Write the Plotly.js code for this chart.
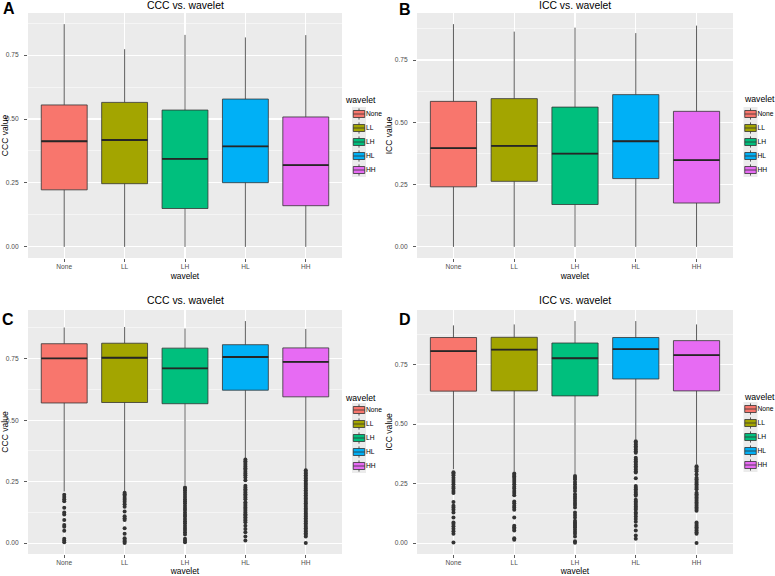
<!DOCTYPE html>
<html>
<head>
<meta charset="utf-8">
<script src="https://cdn.plot.ly/plotly-3.0.1.min.js"></script>
<style>html,body{margin:0;padding:0;background:#fff;}#chart{width:775px;height:576px;}</style>
</head>
<body>
<div id="chart"></div>
<script>
// ---------- DATA ----------
const categories = ['None', 'LL', 'LH', 'HL', 'HH'];

// Panel A: CCC vs. wavelet
const cccA_q1     = [0.223, 0.247, 0.150, 0.251, 0.161];
const cccA_median = [0.413, 0.418, 0.344, 0.393, 0.320];
const cccA_q3     = [0.555, 0.565, 0.535, 0.578, 0.508];
const cccA_lower  = [0.000, 0.000, 0.000, 0.000, 0.000];
const cccA_upper  = [0.871, 0.773, 0.829, 0.819, 0.828];

// Panel B: ICC vs. wavelet
const iccB_q1     = [0.241, 0.263, 0.170, 0.274, 0.176];
const iccB_median = [0.396, 0.405, 0.374, 0.424, 0.348];
const iccB_q3     = [0.584, 0.595, 0.561, 0.611, 0.544];
const iccB_lower  = [0.000, 0.000, 0.000, 0.000, 0.000];
const iccB_upper  = [0.894, 0.864, 0.880, 0.858, 0.888];

// Panel C: CCC vs. wavelet
const cccC_q1     = [0.570, 0.572, 0.567, 0.622, 0.595];
const cccC_median = [0.751, 0.754, 0.711, 0.757, 0.737];
const cccC_q3     = [0.811, 0.813, 0.793, 0.807, 0.794];
const cccC_lower  = [0.210, 0.210, 0.235, 0.345, 0.300];
const cccC_upper  = [0.877, 0.879, 0.873, 0.903, 0.871];

const cccC_outNone = [0.197, 0.188, 0.179, 0.170, 0.144, 0.125, 0.117, 0.094, 0.074, 0.067, 0.050, 0.018, 0.011, 0.004];
const cccC_outLL   = [0.205, 0.199, 0.193, 0.184, 0.176, 0.168, 0.158, 0.148, 0.129, 0.109, 0.101, 0.094, 0.061, 0.038, 0.020, 0.013, 0.007, 0.001];
const cccC_outLH   = [0.226, 0.222, 0.215, 0.206, 0.197, 0.188, 0.179, 0.170, 0.162, 0.152, 0.143, 0.135, 0.125, 0.116, 0.108, 0.098, 0.089, 0.081, 0.071, 0.062, 0.054, 0.044, 0.035, 0.018, 0.011, 0.004];
const cccC_outHL   = [0.340, 0.333, 0.326, 0.319, 0.312, 0.305, 0.298, 0.290, 0.283, 0.276, 0.267, 0.256, 0.233, 0.226, 0.219, 0.213, 0.206, 0.199, 0.193, 0.186, 0.179, 0.166, 0.159, 0.152, 0.145, 0.139, 0.132, 0.125, 0.118, 0.112, 0.105, 0.098, 0.092, 0.085, 0.071, 0.058, 0.044, 0.027, 0.011];
const cccC_outHH   = [0.296, 0.289, 0.283, 0.276, 0.269, 0.263, 0.256, 0.249, 0.242, 0.236, 0.229, 0.222, 0.215, 0.208, 0.202, 0.195, 0.188, 0.182, 0.175, 0.168, 0.162, 0.155, 0.148, 0.141, 0.135, 0.128, 0.121, 0.114, 0.108, 0.101, 0.094, 0.088, 0.081, 0.074, 0.067, 0.061, 0.054, 0.047, 0.040, 0.034, 0.027, 0.001];

// Panel D: ICC vs. wavelet
const iccD_q1     = [0.638, 0.639, 0.618, 0.689, 0.639];
const iccD_median = [0.806, 0.812, 0.776, 0.814, 0.789];
const iccD_q3     = [0.863, 0.864, 0.840, 0.863, 0.850];
const iccD_lower  = [0.310, 0.300, 0.290, 0.435, 0.330];
const iccD_upper  = [0.914, 0.918, 0.932, 0.932, 0.918];

const iccD_outNone = [0.298, 0.292, 0.285, 0.275, 0.265, 0.257, 0.247, 0.237, 0.229, 0.219, 0.210, 0.173, 0.157, 0.150, 0.140, 0.129, 0.108, 0.087, 0.080, 0.071, 0.060, 0.050, 0.039, 0.003];
const iccD_outLL   = [0.292, 0.286, 0.280, 0.273, 0.265, 0.257, 0.247, 0.237, 0.229, 0.219, 0.210, 0.201, 0.175, 0.167, 0.157, 0.150, 0.140, 0.108, 0.073, 0.067, 0.060, 0.053, 0.021, 0.014];
const iccD_outLH   = [0.282, 0.275, 0.268, 0.257, 0.247, 0.237, 0.229, 0.219, 0.205, 0.196, 0.187, 0.178, 0.168, 0.160, 0.150, 0.129, 0.118, 0.108, 0.094, 0.087, 0.080, 0.073, 0.067, 0.057, 0.048, 0.039, 0.028, 0.008, 0.002];
const iccD_outHL   = [0.428, 0.421, 0.414, 0.407, 0.400, 0.393, 0.386, 0.379, 0.358, 0.351, 0.344, 0.337, 0.330, 0.323, 0.316, 0.309, 0.302, 0.296, 0.272, 0.240, 0.233, 0.226, 0.219, 0.212, 0.205, 0.199, 0.182, 0.175, 0.168, 0.161, 0.154, 0.147, 0.140, 0.129, 0.122, 0.112, 0.101, 0.090, 0.073, 0.053, 0.032, 0.018];
const iccD_outHH   = [0.323, 0.316, 0.309, 0.302, 0.288, 0.274, 0.268, 0.261, 0.254, 0.247, 0.240, 0.233, 0.226, 0.212, 0.205, 0.199, 0.192, 0.185, 0.178, 0.171, 0.164, 0.157, 0.150, 0.143, 0.136, 0.087, 0.080, 0.073, 0.067, 0.060, 0.053, 0.046, 0.039, 0.001];

// ---------- STYLE ----------
const fills = ['#F8766D', '#A3A500', '#00BF7D', '#00B0F6', '#E76BF3'];
const FONT = 'Liberation Sans, Arial, sans-serif';
const W = 775, H = 576;
const px = v => v / W;
const py = v => 1 - v / H;

const panels = [
  {ax: '', q1: cccA_q1, med: cccA_median, q3: cccA_q3, lo: cccA_lower, hi: cccA_upper, out: null,
   title: 'CCC vs. wavelet', ytitle: 'CCC value', letter: 'A',
   xd: [28, 342], yd: [13, 258], titleY: 6, letterXY: [8.5, 8.5],
   legX: [352, 366], legY: [107, 177], legTitle: [343, 100]},
  {ax: '2', q1: iccB_q1, med: iccB_median, q3: iccB_q3, lo: iccB_lower, hi: iccB_upper, out: null,
   title: 'ICC vs. wavelet', ytitle: 'ICC value', letter: 'B',
   xd: [417, 733], yd: [13, 258], titleY: 6, letterXY: [404.5, 9],
   legX: [743.5, 757.5], legY: [107, 177], legTitle: [742, 99]},
  {ax: '3', q1: cccC_q1, med: cccC_median, q3: cccC_q3, lo: cccC_lower, hi: cccC_upper,
   out: [cccC_outNone, cccC_outLL, cccC_outLH, cccC_outHL, cccC_outHH],
   title: 'CCC vs. wavelet', ytitle: 'CCC value', letter: 'C',
   xd: [28, 342], yd: [310, 554], titleY: 300.7, letterXY: [7.5, 319],
   legX: [352, 366], legY: [403, 473], legTitle: [343, 397.7]},
  {ax: '4', q1: iccD_q1, med: iccD_median, q3: iccD_q3, lo: iccD_lower, hi: iccD_upper,
   out: [iccD_outNone, iccD_outLL, iccD_outLH, iccD_outHL, iccD_outHH],
   title: 'ICC vs. wavelet', ytitle: 'ICC value', letter: 'D',
   xd: [417, 733], yd: [310, 554], titleY: 300.7, letterXY: [404.5, 319],
   legX: [743.5, 757.5], legY: [402, 472], legTitle: [742, 396.7]}
];

const traces = [];
const layout = {
  width: W, height: H,
  margin: {l: 0, r: 0, t: 0, b: 0},
  paper_bgcolor: '#FFFFFF',
  plot_bgcolor: '#EBEBEB',
  showlegend: false,
  hovermode: false,
  boxmode: 'overlay',
  font: {family: FONT, color: '#000'},
  annotations: []
};

panels.forEach((p, pi) => {
  const xa = 'x' + p.ax, ya = 'y' + p.ax;
  // boxes, one trace per category
  categories.forEach((c, i) => {
    traces.push({
      type: 'box', xaxis: xa, yaxis: ya, name: c,
      x: [c], q1: [p.q1[i]], median: [p.med[i]], q3: [p.q3[i]],
      lowerfence: [p.lo[i]], upperfence: [p.hi[i]],
      width: 0.76, whiskerwidth: 0, boxpoints: false,
      fillcolor: fills[i], line: {color: '#333333', width: 0.8}
    });
  });
  // thicker median line
  traces.push({
    type: 'box', xaxis: xa, yaxis: ya, name: 'median',
    x: categories, q1: p.med, median: p.med, q3: p.med,
    lowerfence: p.med, upperfence: p.med,
    width: 0.76, whiskerwidth: 0, boxpoints: false,
    fillcolor: 'rgba(0,0,0,0)', line: {color: '#262626', width: 1.8}
  });
  // outliers
  if (p.out) {
    const ox = [], oy = [];
    p.out.forEach((arr, i) => arr.forEach(v => { ox.push(categories[i]); oy.push(v); }));
    traces.push({
      type: 'scatter', mode: 'markers', xaxis: xa, yaxis: ya,
      x: ox, y: oy, marker: {color: '#333333', size: 4}, cliponaxis: false
    });
  }
  // y range as ggplot's 5% expansion of data range
  let ymax = Math.max(...p.hi);
  let ymin = Math.min(...p.lo);
  if (p.out) p.out.forEach(a => { ymin = Math.min(ymin, ...a); });
  const span = ymax - ymin;

  layout['xaxis' + p.ax] = {
    domain: [px(p.xd[0]), px(p.xd[1])], anchor: ya,
    type: 'category', categoryorder: 'array', categoryarray: categories,
    range: [-0.6, 4.6], showgrid: true, gridcolor: '#FFFFFF', gridwidth: 1.1,
    zeroline: false, showline: false,
    ticks: 'outside', ticklen: 3, tickcolor: '#333333', tickwidth: 0.8,
    ticklabelstandoff: -1,
    tickfont: {size: 6.6, color: '#4D4D4D', family: FONT},
    title: {text: 'wavelet', font: {size: 8.4, color: '#000', family: FONT}, standoff: 4},
    fixedrange: true
  };
  layout['yaxis' + p.ax] = {
    domain: [py(p.yd[1]), py(p.yd[0])], anchor: xa,
    range: [ymin - 0.05 * span, ymax + 0.05 * span],
    tick0: 0, dtick: 0.25, tickformat: '.2f',
    showgrid: true, gridcolor: '#FFFFFF', gridwidth: 1.1,
    minor: {dtick: 0.125, tick0: 0, showgrid: true, gridcolor: '#FFFFFF', gridwidth: 0.5},
    zeroline: false, showline: false,
    ticks: 'outside', ticklen: 3, tickcolor: '#333333', tickwidth: 0.8,
    ticklabelstandoff: 4,
    tickfont: {size: 6.6, color: '#4D4D4D', family: FONT},
    title: {text: p.ytitle, font: {size: 8.6, color: '#000', family: FONT}, standoff: 0},
    fixedrange: true
  };

  // legend (drawn as its own small axes)
  const lax = String(5 + pi);
  categories.forEach((c, i) => {
    traces.push({
      type: 'box', xaxis: 'x' + lax, yaxis: 'y' + lax, name: c,
      x: [0], q1: [i - 0.25], median: [i], q3: [i + 0.25],
      lowerfence: [i - 0.4], upperfence: [i + 0.4],
      width: 0.82, whiskerwidth: 0, boxpoints: false,
      fillcolor: fills[i], line: {color: '#333333', width: 0.8}
    });
  });
  traces.push({
    type: 'scatter', mode: 'text', xaxis: 'x' + lax, yaxis: 'y' + lax,
    x: categories.map(() => 0.5), y: categories.map((c, i) => i),
    text: categories, textposition: 'middle right',
    textfont: {size: 6.7, color: '#000', family: FONT}, cliponaxis: false
  });
  layout['xaxis' + lax] = {
    domain: [px(p.legX[0]), px(p.legX[1])], anchor: 'y' + lax,
    range: [-0.5, 0.5], showgrid: false, zeroline: false, showticklabels: false,
    ticks: '', fixedrange: true
  };
  layout['yaxis' + lax] = {
    domain: [py(p.legY[1]), py(p.legY[0])], anchor: 'x' + lax,
    range: [categories.length - 0.5, -0.5], showgrid: false, zeroline: false,
    showticklabels: false, ticks: '', fixedrange: true
  };

  // panel title, letter, legend title
  layout.annotations.push({
    xref: 'paper', yref: 'paper', x: px((p.xd[0] + p.xd[1]) / 2), y: py(p.titleY),
    xanchor: 'center', yanchor: 'middle', showarrow: false,
    text: p.title, font: {size: 10.4, color: '#000', family: FONT}
  });
  layout.annotations.push({
    xref: 'paper', yref: 'paper', x: px(p.letterXY[0]), y: py(p.letterXY[1]),
    xanchor: 'center', yanchor: 'middle', showarrow: false,
    text: '<b>' + p.letter + '</b>', font: {size: 16, color: '#000', family: FONT}
  });
  layout.annotations.push({
    xref: 'paper', yref: 'paper', x: px(p.legTitle[0]), y: py(p.legTitle[1]),
    xanchor: 'left', yanchor: 'middle', showarrow: false,
    text: 'wavelet', font: {size: 8.7, color: '#000', family: FONT}
  });
});

Plotly.newPlot('chart', traces, layout, {displayModeBar: false, staticPlot: true});
</script>
</body>
</html>
